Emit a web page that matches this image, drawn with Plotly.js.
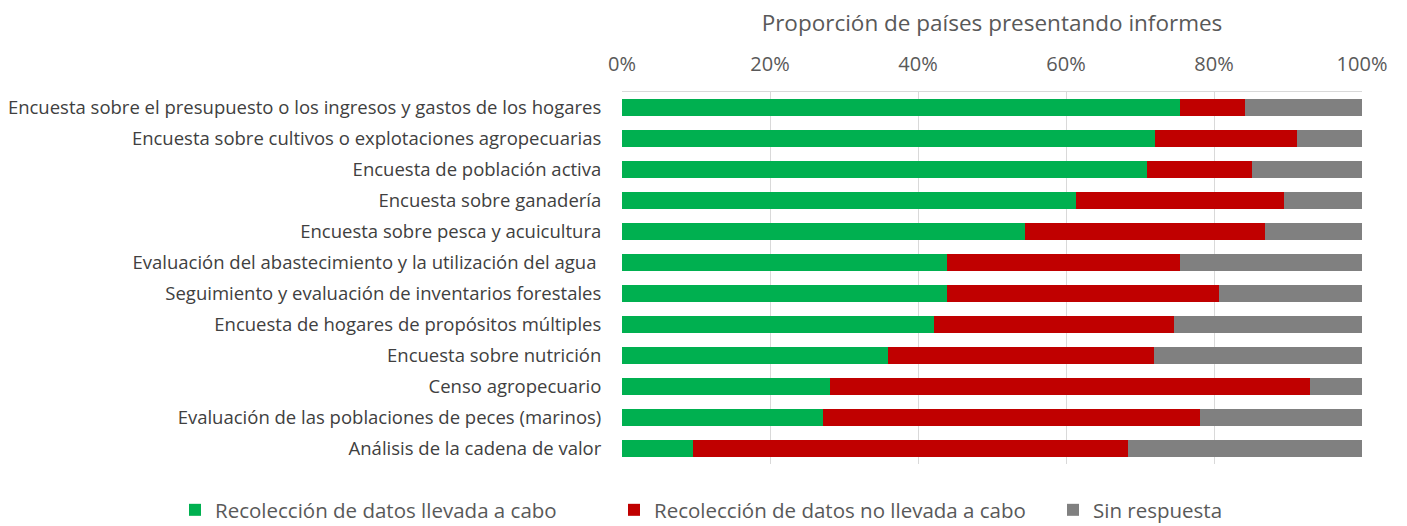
<!DOCTYPE html>
<html>
<head>
<meta charset="utf-8">
<script src="https://cdn.plot.ly/plotly-3.0.1.min.js"></script>
<style>
  html, body { margin: 0; padding: 0; background: #fff; }
  #chart { width: 1407px; height: 526px; }
</style>
</head>
<body>
<div id="chart"></div>
<script>
// survey types, top to bottom
const categories = [
  'Encuesta sobre el presupuesto o los ingresos y gastos de los hogares',
  'Encuesta sobre cultivos o explotaciones agropecuarias',
  'Encuesta de población activa',
  'Encuesta sobre ganadería',
  'Encuesta sobre pesca y acuicultura',
  'Evaluación del abastecimiento y la utilización del agua ',
  'Seguimiento y evaluación de inventarios forestales',
  'Encuesta de hogares de propósitos múltiples',
  'Encuesta sobre nutrición',
  'Censo agropecuario',
  'Evaluación de las poblaciones de peces (marinos)',
  'Análisis de la cadena de valor',
];

// share of reporting countries, %
const done    = [75.4, 72.0, 71.0, 61.4, 54.4, 43.9, 43.9, 42.1, 35.9, 28.1, 27.2, 9.6];
const notDone = [ 8.8, 19.2, 14.1, 28.1, 32.5, 31.5, 36.8, 32.5, 36.0, 64.9, 50.9, 58.8];
const noReply = [15.8,  8.8, 14.9, 10.5, 13.1, 24.6, 19.3, 25.4, 28.1,  7.0, 21.9, 31.6];

const seriesNames = [
  'Recolección de datos llevada a cabo',
  'Recolección de datos no llevada a cabo',
  'Sin respuesta',
];
const xTicks = [0, 20, 40, 60, 80, 100];

const FONT = 'Open Sans, sans-serif';

function barTrace(name, values, color) {
  return {
    type: 'bar',
    orientation: 'h',
    name: name,
    y: categories,
    x: values,
    marker: { color: color, line: { width: 0 } },
    hovertemplate: '%{y}: %{x:.1f}%<extra></extra>',
  };
}

const traces = [
  barTrace(seriesNames[0], done,    '#00B050'),
  barTrace(seriesNames[1], notDone, '#C00000'),
  barTrace(seriesNames[2], noReply, '#808080'),
];

const layout = {
  width: 1407,
  height: 526,
  barmode: 'stack',
  bargap: 0.42,
  margin: { t: 92, r: 45, b: 62, l: 622, autoexpand: false },
  paper_bgcolor: '#fff',
  plot_bgcolor: '#fff',
  font: { family: FONT, size: 16, color: '#595959' },
  title: {
    text: 'Proporción de países presentando informes',
    font: { family: FONT, size: 22.5, color: '#595959' },
    xref: 'paper',
    x: 0.5,
    xanchor: 'center',
    yref: 'container',
    y: 1 - 23 / 526,
    yanchor: 'middle',
  },
  xaxis: {
    side: 'top',
    range: [0, 100],
    tickvals: xTicks,
    ticktext: xTicks.map(v => v + '%'),
    tickfont: { family: FONT, size: 20, color: '#595959' },
    ticks: 'outside',
    ticklen: 12,
    tickcolor: 'rgba(0,0,0,0)',
    showgrid: true,
    gridcolor: '#D9D9D9',
    gridwidth: 1,
    showline: true,
    linecolor: '#D9D9D9',
    linewidth: 1,
    zeroline: false,
    automargin: false,
    fixedrange: true,
  },
  yaxis: {
    autorange: 'reversed',
    tickfont: { family: FONT, size: 18.5, color: '#404040' },
    ticks: 'outside',
    ticklen: 16,
    tickcolor: 'rgba(0,0,0,0)',
    showline: false,
    showgrid: false,
    automargin: false,
    fixedrange: true,
  },
  showlegend: true,
  legend: {
    orientation: 'h',
    traceorder: 'normal',
    xref: 'paper',
    x: (175 - 622) / 740,
    xanchor: 'left',
    yref: 'paper',
    y: -(510 - 464) / 372,
    yanchor: 'middle',
    entrywidth: 394,
    font: { family: FONT, size: 20.5, color: '#595959' },
  },
};

Plotly.newPlot('chart', traces, layout, { displayModeBar: false, staticPlot: true });
</script>
</body>
</html>
